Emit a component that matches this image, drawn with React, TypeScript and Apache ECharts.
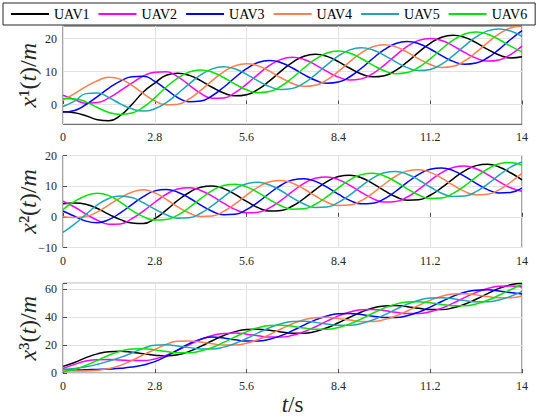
import React, { useEffect, useRef } from 'react';
import * as echarts from 'echarts';

const T = [0, 0.35, 0.7, 1.05, 1.4, 1.75, 2.1, 2.45, 2.8, 3.15, 3.5, 3.85, 4.2, 4.55, 4.9, 5.25, 5.6, 5.95, 6.3, 6.65, 7, 7.35, 7.7, 8.05, 8.4, 8.75, 9.1, 9.45, 9.8, 10.15, 10.5, 10.85, 11.2, 11.55, 11.9, 12.25, 12.6, 12.95, 13.3, 13.65, 14];

const UAV_NAMES = ['UAV1', 'UAV2', 'UAV3', 'UAV4', 'UAV5', 'UAV6'];
const COLORS = ['#000000', '#ff00ff', '#0000ff', '#ff7f50', '#1fa6b3', '#00e600'];

// x^1(t)
const x1Uav1 = [-2.2, -2.5, -3.4, -4.6, -4.9, -3.3, 0.0, 3.8, 6.5, 8.89, 9.5, 8.84, 7.23, 5.23, 3.5, 2.62, 2.97, 4.58, 7.15, 10.11, 12.8, 14.64, 15.25, 14.6, 12.99, 10.99, 9.26, 8.38, 8.73, 10.34, 12.91, 15.86, 18.55, 20.39, 21.0, 20.35, 18.74, 16.74, 15.01, 14.13, 14.48];
const x1Uav2 = [2.8, 1.5, 0.4, 0.6, 2.0, 4.2, 6.5, 8.6, 9.8, 9.9, 8.4, 5.9, 3.4, 1.9, 2.01, 3.62, 6.19, 9.15, 11.84, 13.68, 14.29, 13.64, 12.03, 10.03, 8.3, 7.42, 7.77, 9.38, 11.95, 14.91, 17.6, 19.43, 20.04, 19.39, 17.78, 15.78, 14.05, 13.17, 13.52, 15.13, 17.7];
const x1Uav3 = [-2.3, -1.8, 0.0, 2.4, 5.0, 7.1, 8.4, 8.6, 7.0, 4.6, 2.1, 0.8, 1.05, 2.66, 5.23, 8.19, 10.88, 12.72, 13.33, 12.68, 11.07, 9.07, 7.34, 6.46, 6.81, 8.42, 10.99, 13.95, 16.64, 18.48, 19.09, 18.43, 16.82, 14.82, 13.09, 12.21, 12.56, 14.17, 16.74, 19.7, 22.39];
const x1Uav4 = [1.3, 3.3, 5.4, 7.2, 8.3, 7.7, 5.8, 3.3, 1.1, -0.1, 0.1, 1.7, 4.27, 7.23, 9.92, 11.76, 12.37, 11.72, 10.11, 8.11, 6.38, 5.5, 5.85, 7.46, 10.03, 12.99, 15.68, 17.52, 18.13, 17.48, 15.87, 13.86, 12.13, 11.25, 11.6, 13.21, 15.78, 18.74, 21.43, 23.2, 23.8];
const x1Uav5 = [-0.6, 1.0, 3.3, 3.5, 2.1, 0.2, -1.3, -2.0, -1.3, 0.6, 3.32, 6.27, 8.96, 10.8, 11.41, 10.76, 9.15, 7.15, 5.42, 4.54, 4.89, 6.5, 9.07, 12.03, 14.72, 16.56, 17.17, 16.52, 14.91, 12.91, 11.18, 10.29, 10.64, 12.25, 14.82, 17.78, 20.47, 22.31, 22.92, 22.27, 20.66];
const x1Uav6 = [1.8, 1.7, 0.8, -0.9, -2.4, -3.0, -2.6, -0.8, 2.0, 5.32, 8.01, 9.84, 10.45, 9.8, 8.19, 6.19, 4.46, 3.58, 3.93, 5.54, 8.11, 11.07, 13.76, 15.6, 16.21, 15.56, 13.95, 11.95, 10.22, 9.34, 9.69, 11.29, 13.86, 16.82, 19.51, 21.35, 21.96, 21.31, 19.7, 17.7, 15.97];

// x^2(t)
const x2Uav1 = [4.3, 4.5, 4.1, 2.7, 0.8, -0.9, -2.0, -2.2, -0.6, 2.2, 5.34, 7.94, 9.65, 10.07, 9.2, 7.32, 5.02, 3.01, 1.89, 2.06, 3.52, 5.98, 8.87, 11.47, 13.18, 13.6, 12.72, 10.85, 8.55, 6.54, 5.42, 5.58, 7.05, 9.51, 12.4, 15.0, 16.7, 17.13, 16.25, 14.38, 12.08];
const x2Uav2 = [5.08, 3.2, 0.91, -1.11, -2.4, -2.3, -0.6, 1.87, 4.75, 7.36, 9.06, 9.48, 8.61, 6.73, 4.44, 2.42, 1.3, 1.47, 2.93, 5.4, 8.28, 10.88, 12.59, 13.01, 12.14, 10.26, 7.96, 5.95, 4.83, 5.0, 6.46, 8.92, 11.81, 14.41, 16.12, 16.54, 15.66, 13.79, 11.49, 9.48, 8.36];
const x2Uav3 = [1.9, 0.2, -1.4, -1.9, -0.9, 1.3, 4.0, 6.6, 8.47, 8.9, 8.02, 6.14, 3.85, 1.83, 0.72, 0.88, 2.34, 4.81, 7.69, 10.3, 12.0, 12.42, 11.55, 9.67, 7.38, 5.36, 4.24, 4.41, 5.87, 8.34, 11.22, 13.82, 15.53, 15.95, 15.08, 13.2, 10.9, 8.89, 7.77, 7.94, 9.4];
const x2Uav4 = [0.0, -0.2, 0.1, 1.6, 3.9, 6.2, 8.0, 8.8, 7.8, 5.7, 3.26, 1.24, 0.13, 0.29, 1.76, 4.22, 7.1, 9.71, 11.41, 11.84, 10.96, 9.08, 6.79, 4.77, 3.66, 3.82, 5.28, 7.75, 10.63, 13.24, 14.94, 15.36, 14.49, 12.61, 10.32, 8.3, 7.18, 7.35, 8.81, 11.28, 14.16];
const x2Uav5 = [-5.1, -2.4, 0.8, 3.9, 6.0, 6.8, 6.3, 4.6, 2.5, 0.66, -0.46, -0.3, 1.17, 3.63, 6.52, 9.12, 10.82, 11.25, 10.37, 8.5, 6.2, 4.18, 3.07, 3.23, 4.7, 7.16, 10.04, 12.65, 14.35, 14.78, 13.9, 12.02, 9.73, 7.71, 6.6, 6.76, 8.22, 10.69, 13.57, 16.18, 17.88];
const x2Uav6 = [2.4, 5.0, 6.9, 7.7, 6.9, 4.8, 2.08, 0.07, -1.05, -0.88, 0.58, 3.04, 5.93, 8.53, 10.24, 10.66, 9.78, 7.91, 5.61, 3.6, 2.48, 2.64, 4.11, 6.57, 9.46, 12.06, 13.76, 14.19, 13.31, 11.44, 9.14, 7.12, 6.01, 6.17, 7.64, 10.1, 12.98, 15.59, 17.29, 17.72, 16.84];

// x^3(t)
const x3Uav1 = [4.8, 7.6, 11.0, 13.7, 15.2, 15.5, 14.9, 13.8, 12.8, 12.2, 13.0, 15.48, 19.05, 23.04, 26.75, 29.56, 31.09, 31.32, 30.55, 29.36, 28.45, 28.44, 29.71, 32.28, 35.85, 39.84, 43.55, 46.36, 47.89, 48.12, 47.35, 46.16, 45.25, 45.24, 46.51, 49.08, 52.65, 56.64, 60.35, 62.9, 64.0];
const x3Uav2 = [3.3, 6.2, 8.6, 9.6, 9.7, 9.3, 8.9, 8.9, 10.1, 12.68, 16.25, 20.24, 23.95, 26.76, 28.29, 28.52, 27.75, 26.56, 25.65, 25.64, 26.91, 29.48, 33.05, 37.04, 40.75, 43.56, 45.09, 45.32, 44.55, 43.36, 42.45, 42.44, 43.71, 46.28, 49.85, 53.84, 57.55, 60.36, 61.89, 62.12, 61.35];
const x3Uav3 = [2.6, 2.2, 2.4, 2.6, 2.9, 3.4, 4.3, 5.8, 8.2, 12.0, 16.5, 21.0, 24.2, 25.72, 24.95, 23.76, 22.85, 22.84, 24.11, 26.68, 30.25, 34.24, 37.95, 40.76, 42.29, 42.52, 41.75, 40.56, 39.65, 39.64, 40.91, 43.48, 47.05, 51.04, 54.75, 57.56, 59.09, 59.32, 58.55, 57.36, 56.45];
const x3Uav4 = [1.8, 1.5, 1.5, 2.0, 3.2, 5.5, 9.0, 13.0, 16.8, 20.5, 22.69, 22.92, 22.15, 20.96, 20.05, 20.04, 21.31, 23.88, 27.45, 31.44, 35.15, 37.96, 39.49, 39.72, 38.95, 37.76, 36.85, 36.84, 38.11, 40.68, 44.25, 48.24, 51.95, 54.76, 56.29, 56.52, 55.75, 54.56, 53.65, 53.64, 54.91];
const x3Uav5 = [2.8, 3.3, 4.5, 6.3, 8.6, 11.2, 14.3, 17.6, 19.8, 20.12, 19.35, 18.16, 17.25, 17.24, 18.51, 21.08, 24.65, 28.64, 32.35, 35.16, 36.69, 36.92, 36.15, 34.96, 34.05, 34.04, 35.31, 37.88, 41.45, 45.44, 49.15, 51.96, 53.49, 53.72, 52.95, 51.76, 50.85, 50.84, 52.11, 54.68, 58.25];
const x3Uav6 = [1.0, 2.6, 5.5, 9.1, 12.75, 15.56, 17.09, 17.32, 16.55, 15.36, 14.45, 14.44, 15.71, 18.28, 21.85, 25.84, 29.55, 32.36, 33.89, 34.12, 33.35, 32.16, 31.25, 31.24, 32.51, 35.08, 38.65, 42.64, 46.35, 49.16, 50.69, 50.92, 50.15, 48.96, 48.05, 48.04, 49.31, 51.88, 55.45, 59.44, 63.15];

const PANELS = [
  [x1Uav1, x1Uav2, x1Uav3, x1Uav4, x1Uav5, x1Uav6],
  [x2Uav1, x2Uav2, x2Uav3, x2Uav4, x2Uav5, x2Uav6],
  [x3Uav1, x3Uav2, x3Uav3, x3Uav4, x3Uav5, x3Uav6],
];

const Y_TICK_STEP = [10, 10, 20];
const Y_MIN = [-6, -10, 0];
const Y_MAX = [23.8, 20, 64];
const Y_INTERVAL = [2, 10, 20];
const Y_GRIDLINES_P1 = [0, 10, 20];
const Y_NAMES = ['{i|x}\u00b9({i|t})/{i|m}', '{i|x}\u00b2({i|t})/{i|m}', '{i|x}\u00b3({i|t})/{i|m}'];

const FRAME = '#4d4d4d';
const GRIDC = '#e2e2e2';
const TXT = '#262626';
const SERIF = '"Liberation Serif", "Times New Roman", serif';

export default function App() {
  const ref = useRef<HTMLDivElement>(null);
  useEffect(() => {
    const chart = echarts.init(ref.current!, null, { renderer: 'svg' });
    const grids = [
      { left: 63, right: 28, top: 26, height: 98.3 },
      { left: 63, right: 28, top: 155.5, height: 92 },
      { left: 63, right: 28, top: 283.3, height: 91.2 },
    ].map((g) => ({ ...g, show: true, borderColor: FRAME, borderWidth: 1, backgroundColor: 'transparent' }));

    const nameRich = {
      i: { fontStyle: 'italic', fontFamily: SERIF, fontSize: 24, color: TXT },
    };

    const xAxes = [0, 1, 2].map((g) => ({
      type: 'value',
      gridIndex: g,
      min: 0,
      max: 14,
      interval: 2.8,
      axisLine: { show: false },
      axisTick: { show: true, inside: true, length: 4, lineStyle: { color: FRAME } },
      axisLabel: { fontFamily: SERIF, fontSize: 12, color: TXT, margin: 7 },
      splitLine: { show: true, lineStyle: { color: GRIDC, width: 1 } },
      ...(g === 2
        ? {
            name: '{i|t}/s',
            nameLocation: 'middle',
            nameGap: 16,
            nameTextStyle: { fontFamily: SERIF, fontSize: 23, color: TXT, rich: { i: { fontStyle: 'italic', fontFamily: SERIF, fontSize: 23, color: TXT } } },
          }
        : {}),
    }));

    const yAxes = [0, 1, 2].map((g) => ({
      type: 'value',
      gridIndex: g,
      min: Y_MIN[g],
      max: Y_MAX[g],
      interval: Y_INTERVAL[g],
      axisLine: { show: false },
      axisTick: { show: g !== 0, inside: true, length: 4, lineStyle: { color: FRAME } },
      axisLabel: {
        fontFamily: SERIF,
        fontSize: 12,
        color: TXT,
        margin: 6,
        formatter: (v: number) => {
          const r = Math.round(v);
          if (Math.abs(v - r) > 1e-6 || r % Y_TICK_STEP[g] !== 0) return '';
          return String(r).replace('-', '\u2212');
        },
      },
      splitLine: { show: g !== 0, lineStyle: { color: GRIDC, width: 1 } },
      name: Y_NAMES[g],
      nameLocation: 'middle',
      nameRotate: 90,
      nameGap: 23,
      nameMoveOverlap: false,
      nameTextStyle: { fontFamily: SERIF, fontSize: 24, color: TXT, rich: nameRich },
    }));

    const series: any[] = [];
    PANELS.forEach((panel, g) => {
      panel.forEach((arr, k) => {
        const s: any = {
          type: 'line',
          name: UAV_NAMES[k],
          xAxisIndex: g,
          yAxisIndex: g,
          data: T.map((t, i) => [t, arr[i]]),
          smooth: true,
          symbol: 'none',
          showSymbol: false,
          lineStyle: { width: 1.5, color: COLORS[k] },
          itemStyle: { color: COLORS[k] },
          z: 3,
        };
        if (g === 0 && k === 0) {
          s.markLine = {
            silent: true,
            symbol: ['none', 'none'],
            label: { show: false },
            lineStyle: { color: GRIDC, width: 1, type: 'solid' },
            z: 1,
            data: Y_GRIDLINES_P1.map((v) => ({ yAxis: v })),
          };
        }
        series.push(s);
      });
    });

    chart.setOption({
      animation: false,
      backgroundColor: '#ffffff',
      grid: grids,
      xAxis: xAxes,
      yAxis: yAxes,
      legend: {
        top: 3,
        left: 3,
        data: UAV_NAMES,
        icon: 'rect',
        itemWidth: 38,
        itemHeight: 1.8,
        itemGap: 9,
        padding: [4, 8, 4, 8],
        borderColor: TXT,
        borderWidth: 1,
        backgroundColor: '#ffffff',
        textStyle: { fontFamily: SERIF, fontSize: 14, color: '#000' },
      },
      series,
    });
    return () => chart.dispose();
  }, []);
  return <div ref={ref} style={{ position: 'fixed', left: 0, top: 0, width: 550, height: 417, background: '#fff' }} />;
}
